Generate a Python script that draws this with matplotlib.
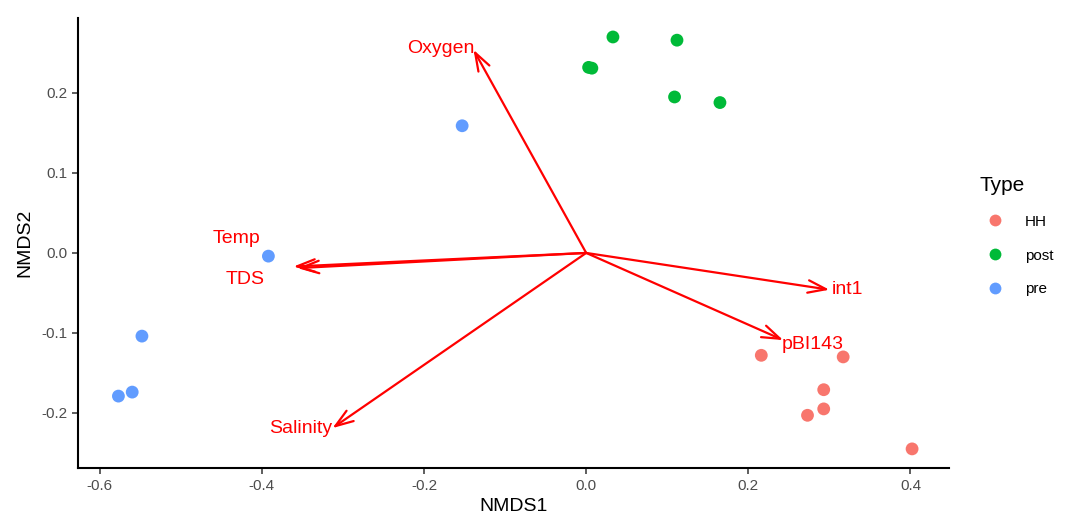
# -*- coding: utf-8 -*-
"""NMDS ordination with environmental fit vectors."""

import matplotlib
matplotlib.use("Agg")
from matplotlib import pyplot as plt
from matplotlib.lines import Line2D

plt.rcParams["font.family"] = ["Liberation Sans", "DejaVu Sans"]

# site scores
hh_x = [0.216, 0.317, 0.293, 0.273, 0.293, 0.402]
hh_y = [-0.128, -0.130, -0.171, -0.203, -0.195, -0.245]
post_x = [0.033, 0.112, 0.003, 0.007, 0.109, 0.165]
post_y = [0.270, 0.266, 0.232, 0.231, 0.195, 0.188]
pre_x = [-0.153, -0.392, -0.548, -0.560, -0.577]
pre_y = [0.159, -0.004, -0.104, -0.174, -0.179]

# env vectors
env_names = ["Oxygen", "Temp", "TDS", "int1", "pBI143", "Salinity"]
env_x = [-0.139, -0.361, -0.356, 0.300, 0.243, -0.313]
env_y = [0.254, -0.017, -0.019, -0.046, -0.109, -0.219]

types = ["HH", "post", "pre"]
colors = ["#F8766D", "#00BA38", "#619CFF"]

fig = plt.figure(figsize=(10.67, 5.23), dpi=100)
ax = fig.add_axes([0.073, 0.105, 0.816, 0.861])

for xs, ys, c in zip([hh_x, post_x, pre_x], [hh_y, post_y, pre_y], colors):
    ax.scatter(xs, ys, s=85, color=c, edgecolors="none", zorder=3)

# label placement (offsets in points, alignment)
lab_opts = {
    "Oxygen": dict(xytext=(1, 1), ha="right", va="center"),
    "Temp": dict(xytext=(-41, 20), ha="center", va="center"),
    "TDS": dict(xytext=(-38, -8), ha="center", va="center"),
    "int1": dict(xytext=(2, 0), ha="left", va="center"),
    "pBI143": dict(xytext=(-1, -3), ha="left", va="center"),
    "Salinity": dict(xytext=(-23, 0), ha="center", va="center"),
}

for name, ex, ey in zip(env_names, env_x, env_y):
    ax.annotate("", xy=(ex, ey), xytext=(0, 0),
                arrowprops=dict(arrowstyle="->,head_length=1.3,head_width=0.45",
                                color="#FF0000", lw=1.6, shrinkA=0, shrinkB=0),
                zorder=2)
    o = lab_opts[name]
    ax.annotate(name, xy=(ex, ey), xytext=o["xytext"], textcoords="offset points",
                ha=o["ha"], va=o["va"], color="#FF0000", fontsize=14, zorder=4)

ax.set_xlim(-0.627, 0.447)
ax.set_ylim(-0.269, 0.294)
ax.set_xticks([-0.6, -0.4, -0.2, 0.0, 0.2, 0.4])
ax.set_xticklabels(["-0.6", "-0.4", "-0.2", "0.0", "0.2", "0.4"])
ax.set_yticks([-0.2, -0.1, 0.0, 0.1, 0.2])
ax.set_yticklabels(["-0.2", "-0.1", "0.0", "0.1", "0.2"])
ax.tick_params(colors="#333333", labelcolor="#4D4D4D", labelsize=11, length=4, width=1.1)
for s in ["top", "right"]:
    ax.spines[s].set_visible(False)
for s in ["left", "bottom"]:
    ax.spines[s].set_linewidth(1.5)
ax.set_xlabel("NMDS1", fontsize=14, labelpad=4)
ax.set_ylabel("NMDS2", fontsize=14, labelpad=6)

handles = [Line2D([], [], marker="o", linestyle="none", markersize=8.5,
                  markerfacecolor=c, markeredgecolor="none") for c in colors]
leg = fig.legend(handles, types, title="Type", loc="upper left",
                 bbox_to_anchor=(0.905, 0.69), frameon=False, fontsize=11,
                 title_fontsize=15, labelspacing=1.3, handletextpad=1.0,
                 alignment="left")

fig.savefig("out.png", dpi=100)
